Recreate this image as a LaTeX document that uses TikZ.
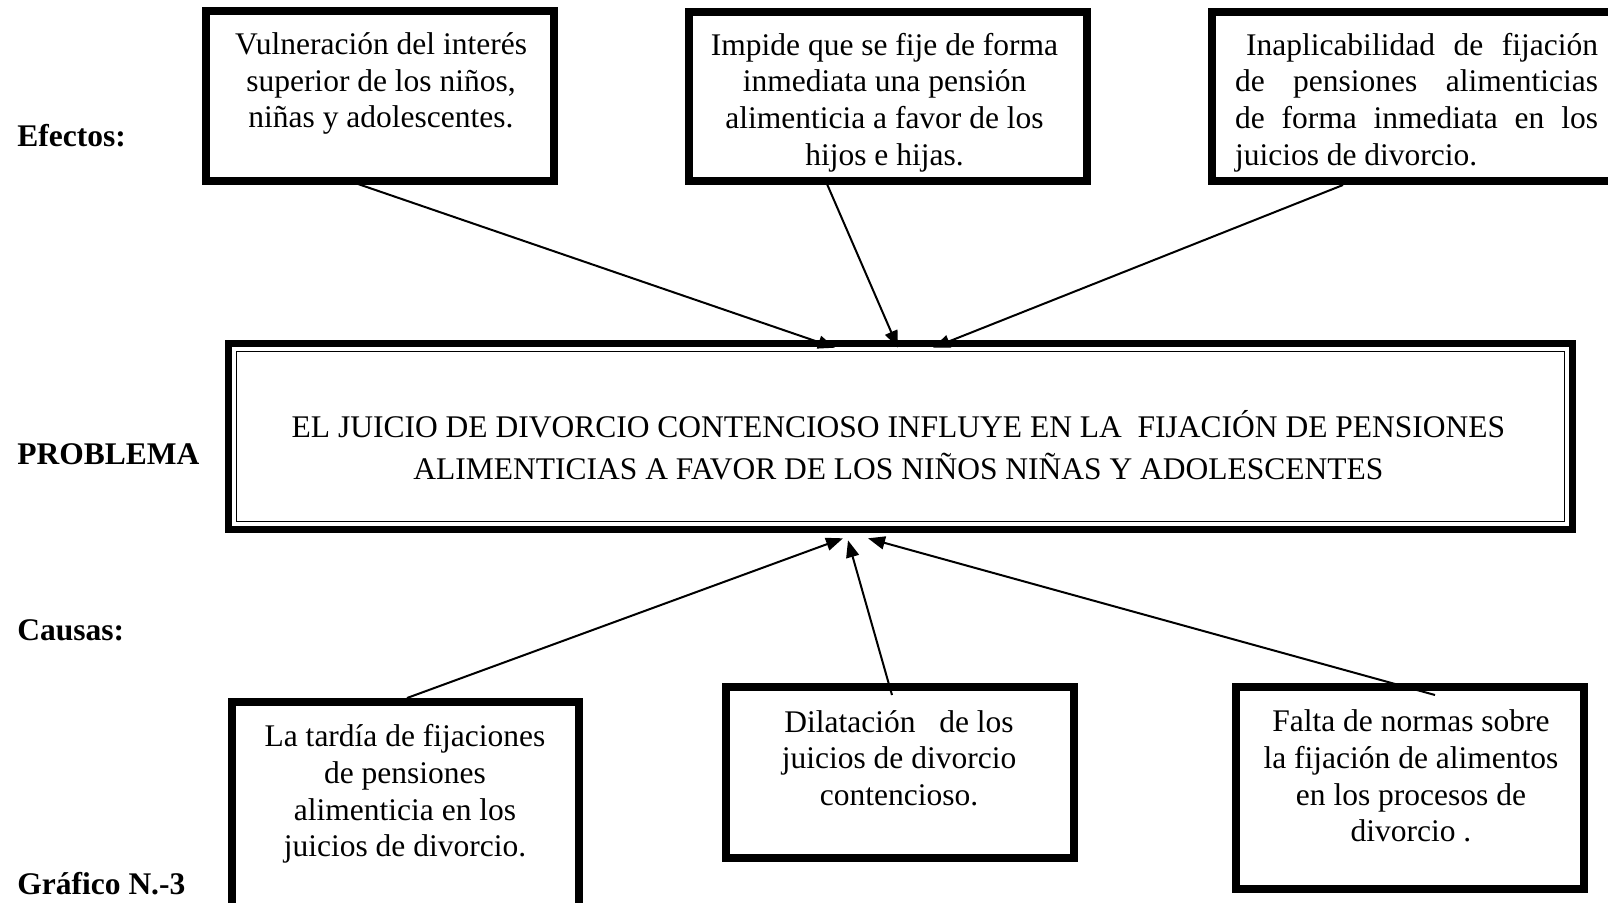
\documentclass[tikz,border=0pt]{standalone}
\usepackage{fontspec}
\setmainfont{Liberation Serif}
\usetikzlibrary{arrows.meta,calc}
\begin{document}
\begin{tikzpicture}[x=0.5pt,y=-0.5pt,
  box/.style={draw,line width=4pt,inner sep=0pt,outer sep=0pt},
  txt/.style={align=center,inner sep=0pt,font=\fontsize{15.75}{18.3}\selectfont},
  lbl/.style={anchor=west,inner sep=0pt,font=\fontsize{15.75}{18}\selectfont\bfseries},
  arr/.style={line width=1pt,-{Triangle[length=8.5pt,width=6.5pt]}}]
\path[use as bounding box] (0,0) rectangle (1608,902);
\clip (0,0) rectangle (1608,902);
% labels
\node[lbl] (lefe) at (17,136) {Efectos:};
\node[lbl] (lpro) at (17,454) {PROBLEMA};
\node[lbl] (lcau) at (17,630) {Causas:};
\node[lbl] (lgra) at (17,884) {Gráfico N.-3};
% top boxes
\node[box,minimum width=174pt,minimum height=85pt] (b1) at (380,96) {};
\node[box,minimum width=199pt,minimum height=84.5pt] (b2) at (888,96.5) {};
\node[box,minimum width=202pt,minimum height=84.5pt] (b3) at (1414,96.5) {};
\node[txt] (t1) at (381,83.5) {Vulneración del interés\\superior de los niños,\\niñas y adolescentes.};
\node[txt] (t2) at (884.5,102.5) {Impide que se fije de forma\\inmediata una pensión\\alimenticia a favor de los\\hijos e hijas.};
\node[txt,text width=181.5pt,align=justify] (t3) at (1416.5,102.5) {\hspace*{0.35em}Inaplicabilidad de fijación\linebreak de pensiones alimenticias\linebreak de forma inmediata en los\linebreak juicios de divorcio.};
% central box
\node[box,line width=3.65pt,minimum width=671.8pt,minimum height=92.8pt] (prob) at (900.5,436.5) {};
\draw[line width=0.75pt] ([shift={(7.8,7.8)}]prob.north west) rectangle ([shift={(-7.8,-7.8)}]prob.south east);
\node[txt,font=\fontsize{15.75}{21}\selectfont] (tp) at (898.5,445.5) {EL JUICIO DE DIVORCIO CONTENCIOSO INFLUYE EN LA\ \ FIJACIÓN DE PENSIONES\\ALIMENTICIAS A FAVOR DE LOS NIÑOS NIÑAS Y ADOLESCENTES};
% bottom boxes
\node[box,minimum width=173.5pt,minimum height=104.5pt] (b4) at (405.5,806.5) {};
\node[box,minimum width=174pt,minimum height=85.5pt] (b5) at (900,772.5) {};
\node[box,minimum width=174pt,minimum height=101pt] (b6) at (1410,788) {};
\node[txt] (t4) at (405,794) {La tardía de fijaciones\\de pensiones\\alimenticia en los\\juicios de divorcio.};
\node[txt] (t5) at (899,758) {Dilatación\ \ \ de los\\juicios de divorcio\\contencioso.};
\node[txt] (t6) at (1411,776) {Falta de normas sobre\\la fijación de alimentos\\en los procesos de\\divorcio .};
% arrows
\draw[arr] ([shift={(-22,3)}]b1.south) -- ([shift={(-65.5,4)}]prob.north);
\draw[arr] ([shift={(-61,3)}]b2.south) -- ([shift={(-2.5,4)}]prob.north);
\draw[arr] ([shift={(-71,4)}]b3.south) -- ([shift={(32.5,4)}]prob.north);
\draw[arr] ([shift={(1.5,-4)}]b4.north) -- ([shift={(-57.5,9)}]prob.south);
\draw[arr] ([shift={(-8,8)}]b5.north) -- ([shift={(-52.5,11)}]prob.south);
\draw[arr] ([shift={(25,8)}]b6.north) -- ([shift={(-32.5,9)}]prob.south);
\end{tikzpicture}
\end{document}
